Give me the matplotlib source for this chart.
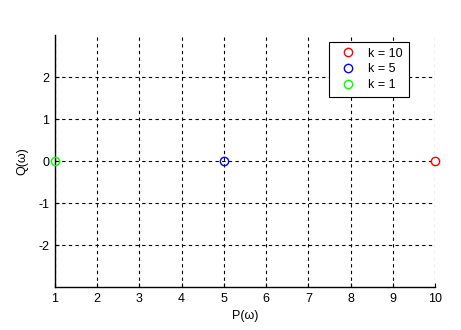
import matplotlib
matplotlib.use('Agg')
import matplotlib.pyplot as plt

plt.rcParams['font.family'] = ['Liberation Sans', 'DejaVu Sans']
plt.rcParams['axes.unicode_minus'] = False

k_labels = ['k = 10', 'k = 5', 'k = 1']
p_vals = [10, 5, 1]
q_vals = [0, 0, 0]
colors = ['#ff0000', '#0000ff', '#00ff00']

fig = plt.figure(figsize=(4.61, 3.30), dpi=100)
ax = fig.add_axes([0.119, 0.130, 0.825, 0.764])

for lab, p, q, c in zip(k_labels, p_vals, q_vals, colors):
    ax.plot([p], [q], 'o', mfc='none', mec=c, ms=6, mew=1, label=lab, clip_on=False, zorder=5)

ax.set_xlim(1, 10)
ax.set_ylim(-3, 3)
ax.set_xticks(range(1, 11))
ax.set_yticks([-2, -1, 0, 1, 2])
ax.grid(True, color='black', linestyle=(0, (3, 3)), linewidth=0.8)
ax.spines['top'].set_visible(False)
ax.spines['right'].set_visible(False)
ax.spines['left'].set_linewidth(1)
ax.spines['bottom'].set_linewidth(1)
ax.tick_params(direction='in', length=3, labelsize=9, pad=4)
ax.set_xlabel('P(\u03c9)', fontsize=9, labelpad=4)
ax.set_ylabel('Q(\u03c9)', fontsize=9, labelpad=7)

leg = ax.legend(loc='upper left', bbox_to_anchor=(0.721, 0.972), borderaxespad=0,
                fontsize=9, fancybox=False, framealpha=1, edgecolor='black',
                borderpad=0.45, handletextpad=0.5, labelspacing=0.3, handlelength=2.2)
leg.get_frame().set_linewidth(0.8)

fig.savefig('out.png', dpi=100)
